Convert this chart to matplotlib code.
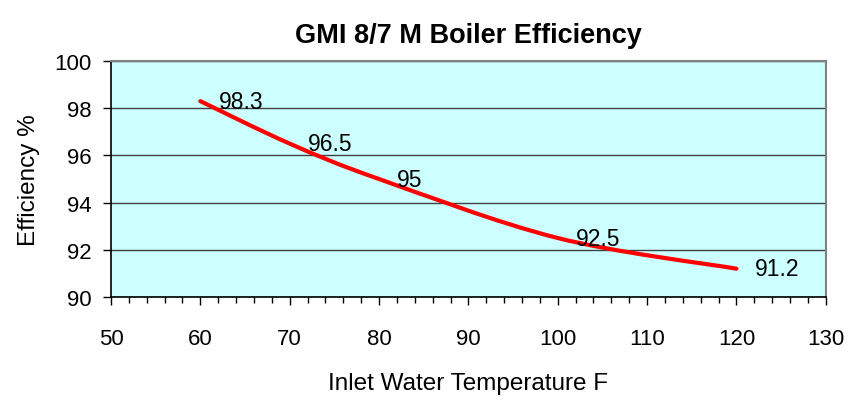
import matplotlib
matplotlib.use('Agg')
import matplotlib.pyplot as plt
from matplotlib.path import Path
from matplotlib.patches import PathPatch
from matplotlib.ticker import MultipleLocator

# inlet water temperature (F) and boiler efficiency (%)
temps = [60, 70, 80, 100, 120]
effs = [98.3, 96.5, 95, 92.5, 91.2]
labels = ['98.3', '96.5', '95', '92.5', '91.2']
xticks = [50, 60, 70, 80, 90, 100, 110, 120, 130]
yticks = [90, 92, 94, 96, 98, 100]

plt.rcParams['font.family'] = ['Liberation Sans', 'DejaVu Sans']

fig = plt.figure(figsize=(8.49, 4.02), dpi=100)
ax = fig.add_axes([0.1307, 0.2587, 0.842, 0.587])
ax.set_facecolor('#CCFFFF')

# smoothed line like excel: catmull-rom -> cubic bezier segments
pts = list(zip(temps, effs))
verts = [pts[0]]
codes = [Path.MOVETO]
for i in range(len(pts) - 1):
    p0 = pts[i - 1] if i > 0 else pts[i]
    p1 = pts[i]
    p2 = pts[i + 1]
    p3 = pts[i + 2] if i + 2 < len(pts) else pts[i + 1]
    c1 = (p1[0] + (p2[0] - p0[0]) / 6, p1[1] + (p2[1] - p0[1]) / 6)
    c2 = (p2[0] - (p3[0] - p1[0]) / 6, p2[1] - (p3[1] - p1[1]) / 6)
    verts += [c1, c2, p2]
    codes += [Path.CURVE4] * 3
ax.add_patch(PathPatch(Path(verts, codes), facecolor='none', edgecolor='#FF0000',
                       lw=3, capstyle='round', zorder=3))

for x, y, t in zip(temps, effs, labels):
    ax.annotate(t, (x, y), xytext=(13, 0), textcoords='offset points',
                ha='left', va='center', fontsize=16.5, zorder=4)

ax.set_xlim(50, 130)
ax.set_ylim(90, 100)
ax.set_xticks(xticks)
ax.set_yticks(yticks)
ax.xaxis.set_minor_locator(MultipleLocator(2))
ax.yaxis.grid(True, color='#404040', lw=1)
ax.set_axisbelow(True)
ax.tick_params(axis='both', which='major', length=6, width=1, direction='out', labelsize=16, pad=8)
ax.tick_params(axis='x', which='minor', length=4, width=1, direction='out')
ax.tick_params(axis='x', pad=16)
for s in ['top', 'right']:
    ax.spines[s].set_color('#808080')
    ax.spines[s].set_linewidth(1.5)
for s in ['left', 'bottom']:
    ax.spines[s].set_color('black')
    ax.spines[s].set_linewidth(1.2)

ax.set_title('GMI 8/7 M Boiler Efficiency', fontsize=19.5, fontweight='bold', pad=14)
ax.set_xlabel('Inlet Water Temperature F', fontsize=17.5, labelpad=17)
ax.set_ylabel('Efficiency %', fontsize=17.5, labelpad=10)

fig.savefig('out.png', dpi=100)
